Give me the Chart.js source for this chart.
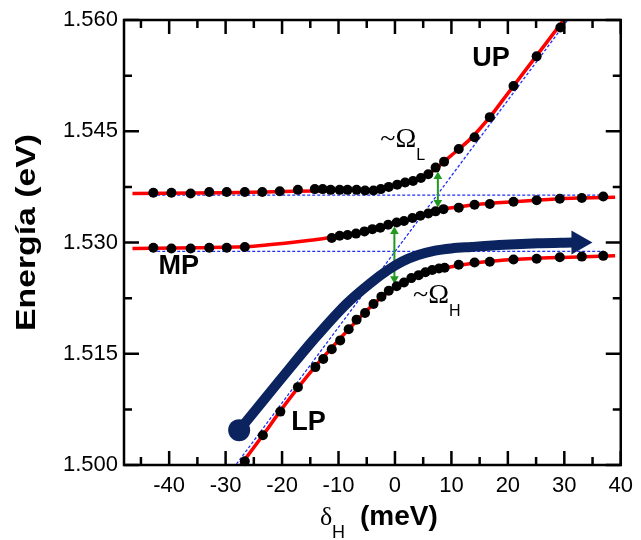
<!DOCTYPE html>
<html>
<head>
<meta charset="utf-8">
<script src="https://cdn.jsdelivr.net/npm/chart.js@4.4.1/dist/chart.umd.min.js"></script>
<style>
  html, body { margin: 0; padding: 0; background: #fff; }
  #wrap { width: 641px; height: 540px; }
</style>
</head>
<body>
<div id="wrap"><canvas id="polaritonChart" width="641" height="540"></canvas></div>
<script>
// Polariton branches (UP / MP / LP) vs detuning

// axes
const xTicks = [-40, -30, -20, -10, 0, 10, 20, 30, 40];
const xMinorTicks = [-45, -35, -25, -15, -5, 5, 15, 25, 35];
const yTicks = [1.5, 1.515, 1.53, 1.545, 1.56];
const yMinorTicks = [1.5075, 1.5225, 1.5375, 1.5525];

// measured peaks (black dots)
const upX = [-42.8, -39.6, -36.2, -32.9, -29.8, -26.6, -23.5, -20.4, -17.2, -14.2, -12.8, -11.4, -9.8, -8.4, -6.8, -5.3, -3.8, -2.5, -1.1, 0.4, 1.8, 3.2, 4.6, 5.9, 7.2, 8.7, 11.3, 14.1, 16.8, 21.0, 25.1, 29.3];
const upY = [1.5367, 1.5367, 1.5366, 1.5368, 1.5368, 1.5368, 1.5368, 1.5369, 1.5371, 1.5372, 1.5372, 1.5371, 1.5371, 1.5371, 1.5371, 1.5370, 1.5370, 1.5372, 1.5375, 1.5378, 1.5381, 1.5383, 1.5387, 1.5392, 1.5401, 1.5409, 1.5426, 1.5442, 1.5469, 1.5511, 1.5551, 1.5590];

const mpX = [-42.8, -39.6, -36.2, -32.9, -29.8, -26.6, -11.2, -9.8, -8.4, -6.9, -5.4, -4.0, -2.6, -1.2, 0.3, 1.6, 3.1, 4.5, 5.9, 7.2, 8.6, 11.3, 14.1, 16.8, 21.0, 25.1, 29.2, 33.1, 36.9];
const mpY = [1.5293, 1.5292, 1.5292, 1.5293, 1.5293, 1.5294, 1.5306, 1.5309, 1.5310, 1.5312, 1.5315, 1.5318, 1.5320, 1.5324, 1.5327, 1.5329, 1.5333, 1.5336, 1.5339, 1.5342, 1.5345, 1.5347, 1.5351, 1.5352, 1.5355, 1.5357, 1.5359, 1.5360, 1.5362];

const lpX = [-26.6, -23.4, -20.3, -17.2, -14.1, -12.7, -11.2, -9.7, -8.2, -6.8, -5.3, -3.8, -2.4, -1.1, 0.3, 1.6, 2.9, 4.2, 5.4, 6.6, 7.8, 8.8, 11.3, 14.1, 16.8, 21.0, 25.1, 29.2, 33.1, 36.9];
const lpY = [1.5005, 1.5040, 1.5072, 1.5105, 1.5132, 1.5143, 1.5156, 1.5168, 1.5183, 1.5196, 1.5205, 1.5217, 1.5227, 1.5235, 1.5241, 1.5246, 1.5252, 1.5256, 1.5260, 1.5263, 1.5265, 1.5266, 1.5270, 1.5273, 1.5274, 1.5277, 1.5278, 1.5280, 1.5281, 1.5282];

// fitted branches (red)
const upFitX = [-46.5, -30, -18, -10, -5, -2, 0, 2, 4, 6, 7.5, 9, 11, 13, 15, 17, 19, 21, 25, 29, 31];
const upFitY = [1.5366, 1.5367, 1.5369, 1.5370, 1.5371, 1.5373, 1.5376, 1.5380, 1.5385, 1.5393, 1.5401, 1.5411, 1.5424, 1.5437, 1.5453, 1.5471, 1.5491, 1.5511, 1.5551, 1.5591, 1.5611];

const mpFitX = [-46.5, -35, -25, -19.5, -15, -11.2, -8.4, -5.4, -2.6, 0.3, 3, 5.9, 8.6, 11.3, 14.1, 17, 21, 25, 29, 33, 39];
const mpFitY = [1.5292, 1.5293, 1.5295, 1.5299, 1.5303, 1.5307, 1.5310, 1.5315, 1.5320, 1.5326, 1.5332, 1.5339, 1.5345, 1.5348, 1.5351, 1.5353, 1.5355, 1.5357, 1.5359, 1.5360, 1.5361];

const lpFitX = [-28, -23.4, -20.3, -17.2, -14.1, -11.2, -8.2, -5.3, -2.4, 0.3, 3, 6, 9, 12, 16, 21, 26, 31, 35, 39];
const lpFitY = [1.4993, 1.5040, 1.5073, 1.5104, 1.5133, 1.5158, 1.5183, 1.5206, 1.5226, 1.5241, 1.5252, 1.5261, 1.5266, 1.5270, 1.5274, 1.5277, 1.5279, 1.5280, 1.5281, 1.5282];

// uncoupled modes (blue dashed)
const excitonLX = [-43, 37];
const excitonLY = [1.5364, 1.5364];
const excitonHX = [-43, 37];
const excitonHY = [1.5288, 1.5288];
const photonX = [-28.6, 30.6];
const photonY = [1.4996, 1.560];

// splitting arrows (green)
const omegaLX = [7.6, 7.6];
const omegaLY = [1.5389, 1.5354];
const omegaHX = [-0.1, -0.1];
const omegaHY = [1.5315, 1.5251];

// navy path along LP + head
const pathX = [-27.6, -20.3, -14.4, -8.5, -4.4, -1.2, 1.2, 4.1, 7.1, 10.0, 13.5, 19.4, 25.3, 31.5];
const pathY = [1.5047, 1.5115, 1.5169, 1.5218, 1.5245, 1.5263, 1.5274, 1.5283, 1.5289, 1.5292, 1.5294, 1.5297, 1.5299, 1.5300];
const headX = [32.5];
const headY = [1.5300];

// text labels
const branchLabels = [
  { text: "UP", x: 17.0, y: 1.5548 },
  { text: "MP", x: -38.3, y: 1.5267 },
  { text: "LP", x: -15.3, y: 1.5057 },
];
const splitLabels = [
  { sub: "L", x: -2.6, y: 1.5429 },
  { sub: "H", x: 3.2, y: 1.5218 },
];

const sans = "'Liberation Sans', Arial, sans-serif";
const serif = "'Liberation Serif', 'Times New Roman', serif";
const navy = "#0b2460";
const green = "#1f9a1f";
const blue = "#1f2ff5";

const pts = (xs, ys) => xs.map((v, i) => ({ x: v, y: ys[i] }));

const curve = (xs, ys, color, width, order, extra) =>
  Object.assign(
    {
      data: pts(xs, ys),
      showLine: true,
      borderColor: color,
      borderWidth: width,
      pointRadius: 0,
      cubicInterpolationMode: "monotone",
      order: order,
    },
    extra || {}
  );

const dashed = { borderDash: [3, 2], cubicInterpolationMode: "default", tension: 0 };

const arrow = (xs, ys) => ({
  data: pts(xs, ys),
  showLine: true,
  borderColor: green,
  borderWidth: 2,
  pointStyle: "triangle",
  pointRadius: 5,
  pointRotation: [0, 180],
  pointBackgroundColor: green,
  pointBorderWidth: 0,
  order: 5,
});

const dots = (xs, ys) => ({
  data: pts(xs, ys),
  pointRadius: 5,
  pointBackgroundColor: "#000",
  pointBorderWidth: 0,
  clip: 6,
  order: 1,
});

const framePlugin = {
  id: "frame",
  afterDraw(chart) {
    const { ctx, chartArea: a, scales } = chart;
    const sx = scales.x;
    const sy = scales.y;
    ctx.save();
    ctx.strokeStyle = "#000";
    ctx.lineWidth = 2.5;
    ctx.strokeRect(a.left, a.top, a.right - a.left, a.bottom - a.top);

    // inward ticks on all four sides
    const xt = (vals, len) =>
      vals.forEach((v) => {
        const p = sx.getPixelForValue(v);
        ctx.beginPath();
        ctx.moveTo(p, a.bottom);
        ctx.lineTo(p, a.bottom - len);
        ctx.moveTo(p, a.top);
        ctx.lineTo(p, a.top + len);
        ctx.stroke();
      });
    const yt = (vals, len) =>
      vals.forEach((v) => {
        const p = sy.getPixelForValue(v);
        ctx.beginPath();
        ctx.moveTo(a.left, p);
        ctx.lineTo(a.left + len, p);
        ctx.moveTo(a.right, p);
        ctx.lineTo(a.right - len, p);
        ctx.stroke();
      });
    xt(xTicks, 14);
    xt(xMinorTicks, 8);
    yt(yTicks, 15);
    yt(yMinorTicks, 8);

    // branch names
    ctx.fillStyle = "#000";
    ctx.font = "bold 27px " + sans;
    ctx.textAlign = "center";
    ctx.textBaseline = "middle";
    branchLabels.forEach((l) => {
      ctx.fillText(l.text, sx.getPixelForValue(l.x), sy.getPixelForValue(l.y));
    });

    // ~Omega labels
    ctx.textAlign = "left";
    ctx.textBaseline = "alphabetic";
    splitLabels.forEach((l) => {
      const px = sx.getPixelForValue(l.x);
      const py = sy.getPixelForValue(l.y);
      ctx.font = "28px " + serif;
      ctx.fillText("~\u03A9", px, py);
      const w = ctx.measureText("~\u03A9").width;
      ctx.font = "16px " + sans;
      ctx.fillText(l.sub, px + w, py + 13);
    });

    // x title: delta_H (meV)
    ctx.font = "26px " + serif;
    ctx.fillText("\u03B4", a.left + 196, a.bottom + 60);
    ctx.font = "18px " + sans;
    ctx.fillText("H", a.left + 208, a.bottom + 73);
    ctx.font = "bold 28px " + sans;
    ctx.fillText("(meV)", a.left + 236, a.bottom + 60);

    // y title
    ctx.translate(a.left - 96, a.top + 212.5);
    ctx.rotate(-Math.PI / 2);
    ctx.scale(1.25, 1);
    ctx.textAlign = "center";
    ctx.textBaseline = "middle";
    ctx.font = "bold 27px " + sans;
    ctx.fillText("Energía (eV)", 0, 0);
    ctx.restore();
  },
};

const ctx = document.getElementById("polaritonChart").getContext("2d");
new Chart(ctx, {
  type: "scatter",
  data: {
    datasets: [
      curve(excitonLX, excitonLY, blue, 1.3, 7, dashed),
      curve(excitonHX, excitonHY, blue, 1.3, 7, dashed),
      curve(photonX, photonY, blue, 1.3, 7, dashed),
      curve(upFitX, upFitY, "#ff0000", 3.5, 6),
      curve(mpFitX, mpFitY, "#ff0000", 3.5, 6),
      curve(lpFitX, lpFitY, "#ff0000", 3.5, 6),
      arrow(omegaLX, omegaLY),
      arrow(omegaHX, omegaHY),
      curve(pathX, pathY, navy, 10, 4, {
        pointRadius: (c) => (c.dataIndex === 0 ? 11 : 0),
        pointBackgroundColor: navy,
        pointBorderWidth: 0,
        clip: 12,
      }),
      {
        data: pts(headX, headY),
        pointStyle: "triangle",
        pointRadius: 14,
        pointRotation: 90,
        pointBackgroundColor: navy,
        pointBorderWidth: 0,
        clip: 20,
        order: 4,
      },
      dots(upX, upY),
      dots(mpX, mpY),
      dots(lpX, lpY),
    ],
  },
  options: {
    responsive: false,
    animation: false,
    events: [],
    layout: { padding: { left: 0, right: 16, top: 20, bottom: 0 } },
    plugins: {
      legend: { display: false },
      tooltip: { enabled: false },
    },
    scales: {
      x: {
        type: "linear",
        min: -48,
        max: 40,
        afterBuildTicks: (s) => {
          s.ticks = xTicks.map((v) => ({ value: v }));
        },
        afterFit: (s) => {
          s.height = 75;
        },
        grid: { display: false, drawTicks: false },
        border: { display: false },
        ticks: {
          padding: 8,
          color: "#000",
          font: { family: sans, size: 22 },
          callback: (v) => String(v),
        },
      },
      y: {
        type: "linear",
        min: 1.5,
        max: 1.56,
        afterBuildTicks: (s) => {
          s.ticks = yTicks.map((v) => ({ value: v }));
        },
        afterFit: (s) => {
          s.width = 124;
        },
        grid: { display: false, drawTicks: false },
        border: { display: false },
        ticks: {
          padding: 6,
          color: "#000",
          font: { family: sans, size: 22 },
          callback: (v) => Number(v).toFixed(3),
        },
      },
    },
  },
  plugins: [framePlugin],
});
</script>
</body>
</html>
